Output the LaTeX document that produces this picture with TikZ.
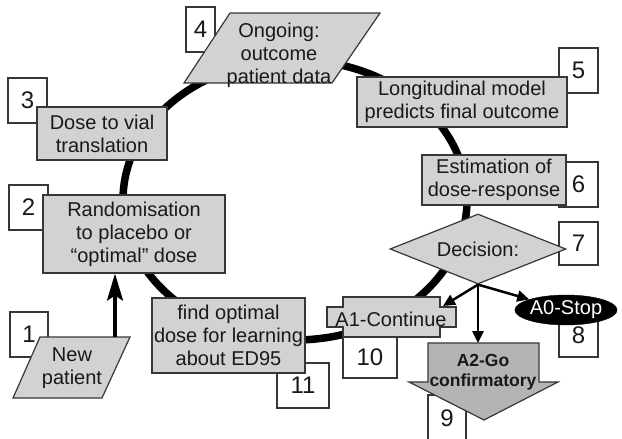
\documentclass[tikz,border=0pt]{standalone}
\usepackage{fontspec}
\setmainfont{Liberation Sans}
\usetikzlibrary{shapes.geometric,arrows.meta}
\definecolor{boxgray}{RGB}{210,210,210}
\definecolor{gogray}{RGB}{180,180,180}
\definecolor{edge}{RGB}{55,55,55}
\definecolor{ink}{RGB}{25,25,25}
\begin{document}
\begin{tikzpicture}[x=1pt,y=-1pt,
  txt/.style={font=\fontsize{20}{23}\selectfont, text=ink, align=center, inner sep=0pt},
  mainbox/.style={txt, draw=edge, line width=1.2pt, fill=boxgray, rectangle},
  numbox/.style={draw=edge, line width=1.2pt, fill=white, inner sep=0pt, rectangle,
    font=\fontsize{24}{24}\selectfont, text=ink},
  shapeline/.style={draw=edge, line width=1.2pt, fill=boxgray},
  ring/.style={line width=7.5pt, black},
  decarrow/.style={line width=2.5pt, black, -{Triangle[length=12pt,width=11pt]}},
  ]
\useasboundingbox (0,0) rectangle (622,439);
\fill[white] (0,0) rectangle (622,439);

% main cycle ring
\draw[ring] (295,200) ellipse [x radius=172, y radius=140];

% number boxes (behind)
\node[numbox, minimum width=29pt, minimum height=45pt] (n4) at (200.5,29.5) {4};
\node[numbox, minimum width=39pt, minimum height=45pt] (n5) at (578.5,70.5) {5};
\node[numbox, minimum width=39pt, minimum height=45pt] (n6) at (578.5,184.5) {6};
\node[numbox, minimum width=39pt, minimum height=43pt] (n7) at (578.5,243.5) {7};
\node[numbox, minimum width=39pt, minimum height=44pt] (n8) at (578.5,335) {8};
\node[numbox, minimum width=38pt, minimum height=46pt] (n9) at (447,418) {9};
\node[numbox, minimum width=54pt, minimum height=41pt] (n10) at (370,357.5) {10};
\node[numbox, minimum width=52pt, minimum height=45pt] (n11) at (303,385.5) {11};
\node[numbox, minimum width=38pt, minimum height=45pt] (n1) at (29,334.5) {1};
\node[numbox, minimum width=39pt, minimum height=45pt] (n2) at (28.5,207.5) {2};
\node[numbox, minimum width=39pt, minimum height=45pt] (n3) at (27.5,100.5) {3};

% main boxes
\node[mainbox, minimum width=130pt, minimum height=53pt] (vial) at (102,133.5) {Dose to vial\\translation};
\node[mainbox, minimum width=182pt, minimum height=78pt] (rand) at (134,234) {Randomisation\\to placebo or\\“optimal” dose};
\node[mainbox, minimum width=210pt, minimum height=50pt] (longi) at (462,102) {Longitudinal model\\predicts final outcome};
\node[mainbox, minimum width=144pt, minimum height=50pt] (estim) at (494,180) {Estimation of\\dose-response};
\node[mainbox, minimum width=153pt, minimum height=75pt] (find) at (228.5,335.5) {find optimal\\dose for learning\\about ED95};

% parallelograms
\draw[shapeline] (230,13) -- (380,13) -- (332,83) -- (184,83) -- cycle;
\node[txt] (ongoing) at (279,55) {Ongoing:\\outcome\\patient data};
\draw[shapeline] (40,337) -- (130,337) -- (102,398) -- (13,398) -- cycle;
\node[txt] (newp) at (72,368) {New\\patient};
\coordinate (nptop) at (115,337);

% A1 continue
\draw[shapeline] (343,297) -- (440,297) -- (440,307) -- (456,307) -- (456,327) -- (440,327)
  -- (440,337) -- (343,337) -- (343,327) -- (327,327) -- (327,307) -- (343,307) -- cycle;
\node[txt] (a1) at (391,319) {A1-Continue};
\coordinate (a1in) at (443,306);

% A2 go arrow
\draw[draw=edge, line width=1.2pt, fill=gogray] (428,343) -- (539,343) -- (539,382) -- (558,382)
  -- (484,420) -- (409,382) -- (428,382) -- cycle;
\node[txt, font=\bfseries\fontsize{17.5}{20}\selectfont] (a2) at (483,372) {A2-Go\\confirmatory};
\coordinate (a2top) at (478,343);

% decision
\node[diamond, aspect=2.5, draw=edge, line width=1.2pt, fill=boxgray, txt,
  minimum width=176pt, minimum height=70pt] (dec) at (478,249) {Decision:};

% stop
\node[ellipse, fill=black, draw=black, txt, text=white,
  minimum width=98pt, minimum height=30pt] (a0) at (566,310) {A0-Stop};

% arrows
\draw[decarrow] (dec.south) -- (a1in);
\draw[decarrow] (dec.south) -- (a0);
\draw[decarrow] (dec.south) -- (a2top);
\draw[line width=3.2pt, black, -{Stealth[length=27pt,width=16pt,inset=5pt]}] (nptop) -- (nptop |- rand.south);
\end{tikzpicture}
\end{document}
